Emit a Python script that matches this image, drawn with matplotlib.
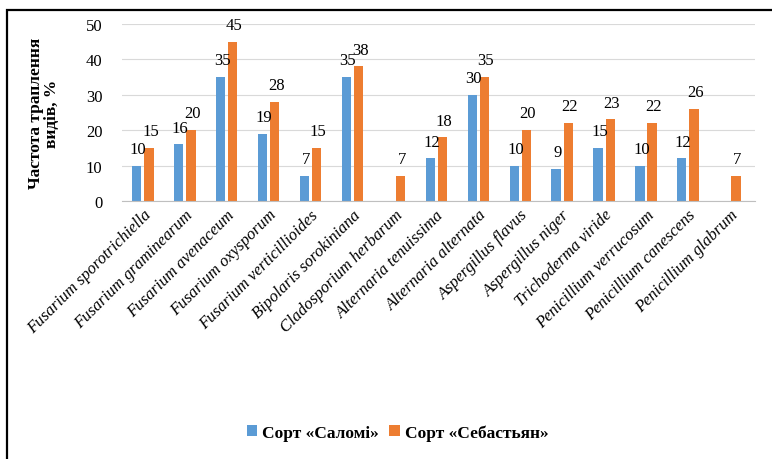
import matplotlib.pyplot as plt
import numpy as np
from matplotlib.patches import Rectangle

species = ['Fusarium sporotrichiella', 'Fusarium graminearum', 'Fusarium avenaceum',
           'Fusarium oxysporum', 'Fusarium verticillioides', 'Bipolaris sorokiniana',
           'Cladosporium herbarum', 'Alternaria tenuissima', 'Alternaria alternata',
           'Aspergillus flavus', 'Aspergillus niger', 'Trichoderma viride',
           'Penicillium verrucosum', 'Penicillium canescens', 'Penicillium glabrum']
salomi = [10, 16, 35, 19, 7, 35, None, 12, 30, 10, 9, 15, 10, 12, None]
sebastian = [15, 20, 45, 28, 15, 38, 7, 18, 35, 20, 22, 23, 22, 26, 7]
labels = ['Сорт «Саломі»', 'Сорт «Себастьян»']

plt.rcParams['font.family'] = ['Liberation Serif', 'DejaVu Serif']

fig = plt.figure(figsize=(7.72, 4.6), dpi=100)
ax = fig.add_axes([0.158, 0.561, 0.82, 0.385])

x = np.arange(len(species))
w = 0.22
gap = 0.035
blue = '#5B9BD5'
orange = '#ED7D31'
s_vals = [v if v is not None else 0 for v in salomi]
b1 = ax.bar(x - w / 2 - gap, s_vals, w, color=blue, label=labels[0], zorder=2)
b2 = ax.bar(x + w / 2 + gap, sebastian, w, color=orange, label=labels[1], zorder=2)

for xi, v in zip(x, salomi):
    if v is not None:
        ax.annotate(str(v), (xi - w / 2 - gap, v), xytext=(1, 12), textcoords='offset points',
                    ha='center', va='center', fontsize=12)
for xi, v in zip(x, sebastian):
    ax.annotate(str(v), (xi + w / 2 + gap, v), xytext=(1, 12), textcoords='offset points',
                ha='center', va='center', fontsize=12)

ax.set_ylim(0, 50)
ax.set_yticks(range(0, 51, 10))
ax.set_xlim(-0.5, len(species) - 0.4)
ax.grid(axis='y', color='#d9d9d9', linewidth=0.8, zorder=0)
for s in ['top', 'right', 'left']:
    ax.spines[s].set_visible(False)
ax.spines['bottom'].set_color('#bfbfbf')
ax.tick_params(axis='both', length=0, labelsize=12)
ax.tick_params(axis='y', pad=14)
ax.tick_params(axis='x', pad=4)
ax.set_xticks(x)
ax.set_xticklabels(species, rotation=45, ha='right', rotation_mode='anchor',
                   fontstyle='italic', fontsize=12)
ax.set_ylabel('Частота траплення\nвидів, %', fontweight='bold', fontsize=12.5,
              linespacing=1.0, labelpad=19)

fig.legend(handles=[b1, b2], labels=labels, loc='center', bbox_to_anchor=(0.515, 0.058),
           ncol=2, frameon=False, prop={'weight': 'bold', 'size': 12.5},
           handlelength=0.6, handleheight=0.6, handletextpad=0.3, columnspacing=0.6)

fig.patches.append(Rectangle((7 / 772, -0.05), 1.1, 1 - 11 / 460 + 0.05,
                             transform=fig.transFigure, fill=False,
                             edgecolor='black', linewidth=1.6))

fig.savefig('out.png', dpi=100)
